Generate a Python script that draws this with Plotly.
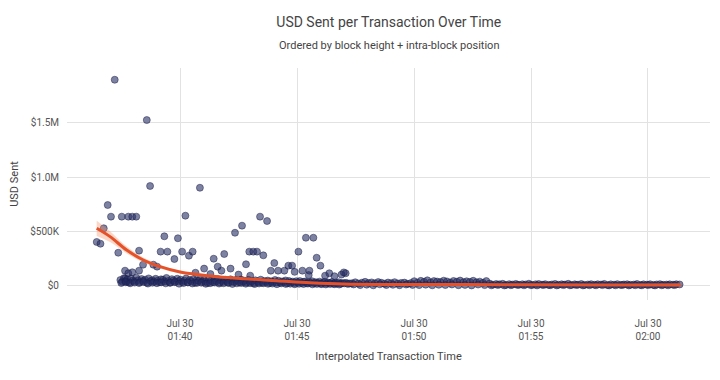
import pandas as pd
import plotly.graph_objects as go

BASE = pd.Timestamp("2018-07-30 01:40:00")

# ---- notable transactions (minutes from 01:40, USD thousands) ----
out_t = [-2.79, -1.42, -1.28, 0.85, -3.56, -3.40, -3.26, -3.09, -2.95, -2.64, -2.49, -2.21, -2.04, -1.87,
         -1.75, -1.58, -1.14, -0.98, -0.83, -0.54, -0.67, -0.24, -0.09, 0.09, 0.23, 0.38, 0.54, 0.66, 1.03,
         1.44, 1.61, 1.77, 1.89, 2.16, 2.35, 2.65, 2.82, 2.96, 3.13, 3.29, 3.42, 3.56, 3.72, 4.03, 3.88,
         4.19, 4.46, 4.63, 4.79, 5.06, 5.38, 5.70, 5.84, 6.00, 5.23, 5.53, 6.38, 7.08,
         -2.35, -2.21, -2.04, -1.75, -2.35, -2.28, 1.30, 2.50, 3.00, 4.90, 5.50, 6.20, 6.60, 6.90, 7.00]
out_v = [1898, 1527, 920, 904, 405, 389, 531, 745, 638, 306, 638, 638, 638, 638,
         325, 196, 196, 178, 316, 316, 457, 248, 439, 316, 647, 279, 316, 122, 160,
         251, 178, 141, 294, 160, 490, 555, 200, 316, 316, 316, 638, 282, 598, 211, 141,
         141, 141, 187, 187, 316, 444, 444, 260, 187, 141, 141, 117, 117,
         141, 117, 126, 141, 70, 40, 110, 105, 95, 130, 100, 95, 90, 105, 125]

# ---- dense early band ----
band1_t = [-2.55, -2.47, -2.40, -2.33, -2.25, -2.18, -2.10, -2.02, -1.95, -1.87,
           -1.80, -1.72, -1.64, -1.57, -1.49, -1.42, -1.34, -1.26, -1.19, -1.11,
           -1.04, -0.96, -0.88, -0.81, -0.73, -0.66, -0.58, -0.50, -0.43, -0.35,
           -0.28, -0.20, -0.12, -0.05, 0.03, 0.10, 0.18, 0.26, 0.33, 0.41,
           0.48, 0.56, 0.64, 0.71, 0.79, 0.86, 0.94, 1.02, 1.09, 1.17,
           1.24, 1.32, 1.40, 1.47, 1.55, 1.62, 1.70, 1.78, 1.85, 1.93,
           2.00, 2.08, 2.16, 2.23, 2.31, 2.38, 2.46, 2.54, 2.61, 2.69,
           2.76, 2.84, 2.92, 2.99, 3.07, 3.14, 3.22, 3.30, 3.37, 3.45,
           3.52, 3.60, 3.68, 3.75, 3.83, 3.90, 3.98, 4.06, 4.13, 4.21,
           4.28, 4.36, 4.44, 4.51, 4.59, 4.66, 4.74, 4.82, 4.89, 4.97,
           5.04, 5.12, 5.20, 5.27, 5.35, 5.42, 5.50, 5.58, 5.65, 5.73,
           5.80, 5.88, 5.96, 6.03, 6.11, 6.18, 6.26, 6.34, 6.41, 6.49,
           6.56, 6.64, 6.72, 6.79, 6.87, 6.94, 7.02, 7.10, 7.17, 7.25]
band1_v = [55, 38, 72, 45, 60, 33, 68, 50, 41, 76, 52, 36, 64, 47, 58, 30, 70, 44, 53, 39,
           66, 48, 35, 61, 57, 42, 74, 46, 31, 63, 51, 40, 67, 45,
           58, 37, 49, 69, 34, 55, 43, 62, 30, 52, 47, 65, 38, 56, 41, 28, 60, 46, 35, 53,
           44, 63, 32, 50, 39, 57, 45, 29, 61, 42, 36, 54, 48, 33, 59, 40,
           47, 31, 56, 38, 44, 26, 52, 41, 35, 58, 30, 45, 39, 50, 27, 43, 36, 55, 33, 48,
           29, 42, 37, 51, 25, 46, 34, 40, 28, 44,
           32, 45, 27, 38, 41, 24, 36, 30, 43, 26, 35, 29, 40, 22, 33, 37, 25, 31, 28, 36,
           21, 30, 26, 34, 20, 27, 24, 29, 19, 23]
band2_t = [-2.51, -2.32, -2.13, -1.94, -1.75, -1.56, -1.37, -1.18, -0.99, -0.80,
           -0.61, -0.42, -0.23, -0.04, 0.15, 0.34, 0.53, 0.72, 0.91, 1.10,
           1.29, 1.48, 1.67, 1.86, 2.05, 2.24, 2.43, 2.62, 2.81, 3.00,
           3.19, 3.38, 3.57, 3.76, 3.95, 4.14, 4.33, 4.52, 4.71, 4.90,
           5.09, 5.28, 5.47, 5.66, 5.85, 6.04, 6.23, 6.42, 6.61, 6.80]
band2_v = [28, 34, 25, 31, 27, 36, 22, 30, 26, 33, 24, 29, 35, 21, 27, 32, 23, 28, 30, 20,
           26, 31, 22, 25, 29, 19, 24, 27, 21, 26, 18, 23, 25, 20, 22, 17, 24, 19, 21, 16,
           20, 18, 22, 15, 19, 17, 14, 18, 16, 13]

# ---- later band ----
band3_t = [7.35, 7.49, 7.63, 7.77, 7.91, 8.05, 8.19, 8.33, 8.47, 8.61,
           8.75, 8.89, 9.03, 9.17, 9.31, 9.45, 9.59, 9.73, 9.87, 10.01,
           10.15, 10.29, 10.43, 10.57, 10.71, 10.85, 10.99, 11.13, 11.27, 11.41,
           11.55, 11.69, 11.83, 11.97, 12.11, 12.25, 12.39, 12.53, 12.67, 12.81,
           12.95, 13.09, 13.23, 13.37, 13.51, 13.65, 13.79, 13.93, 14.07, 14.21,
           14.35, 14.49, 14.63, 14.77, 14.91, 15.05, 15.19, 15.33, 15.47, 15.61,
           15.75, 15.89, 16.03, 16.17, 16.31, 16.45, 16.59, 16.73, 16.87, 17.01,
           17.15, 17.29, 17.43, 17.57, 17.71, 17.85, 17.99, 18.13, 18.27, 18.41,
           18.55, 18.69, 18.83, 18.97, 19.11, 19.25, 19.39, 19.53, 19.67, 19.81,
           19.95, 20.09, 20.23, 20.37, 20.51, 20.65, 20.79, 20.93, 21.07, 21.21, 21.35]
band3_v = [25, 34, 22, 30, 38, 27, 33, 24, 36, 29, 21, 32, 26, 35, 23, 28, 31, 20, 27,
           44, 30, 47, 38, 52, 33, 45, 41, 36, 49, 42, 31, 46, 39, 50, 35, 43, 37, 48, 34, 40, 29, 45,
           22, 12, 18, 15, 20, 10, 17, 13, 19, 11, 16, 14, 21, 9, 15, 18, 12, 17, 10, 14,
           19, 11, 16, 13, 20, 9, 15, 12, 18, 10, 14, 17, 11, 16, 13, 19, 8, 15, 12, 17,
           10, 14, 16, 11, 13, 18, 9, 15, 12, 16, 10, 14, 17, 11, 13, 15, 12, 16, 14]
band4_t = [7.42, 7.70, 7.98, 8.26, 8.54, 8.82, 9.10, 9.38, 9.66, 9.94,
           10.22, 10.50, 10.78, 11.06, 11.34, 11.62, 11.90, 12.18, 12.46, 12.74,
           13.02, 13.30, 13.58, 13.86, 14.14, 14.42, 14.70, 14.98, 15.26, 15.54,
           15.82, 16.10, 16.38, 16.66, 16.94, 17.22, 17.50, 17.78, 18.06, 18.34,
           18.62, 18.90, 19.18, 19.46, 19.74, 20.02, 20.30, 20.58, 20.86, 21.14]
band4_v = [14, 8, 12, 6, 15, 9, 11, 7, 13, 10, 8, 12, 6, 11, 9, 14, 7, 10, 5, 13,
           8, 6, 9, 5, 7, 10, 6, 8, 5, 9, 7, 5, 8, 6, 9, 5, 7, 6, 8, 5,
           6, 9, 5, 7, 6, 8, 5, 7, 6, 8]

# ---- smoothed trend and its confidence half-width (USD thousands) ----
trend_t = [-3.56, -2.99, -2.28, -1.57, -0.85, 0.0, 1.28, 2.71, 4.13, 5.56, 6.98, 9.4, 13.7, 17.9, 21.4]
trend_v = [531, 454, 331, 239, 178, 129, 92, 67, 49, 30, 18, 14, 12, 10, 10]
trend_se = [70, 50, 32, 22, 16, 12, 9, 8, 7, 6, 6, 5, 5, 6, 14]

# ---- axis ticks ----
xtick_min = [0, 5, 10, 15, 20]
ytick_vals = [0, 500, 1000, 1500]
ytick_text = ["$0", "$500K", "$1.0M", "$1.5M"]


def to_time(mins):
    return BASE + pd.to_timedelta(pd.Series(mins, dtype=float), unit="m")


all_t = out_t + band1_t + band2_t + band3_t + band4_t
all_v = out_v + band1_v + band2_v + band3_v + band4_v

fig = go.Figure()
fig.add_trace(go.Scatter(
    x=to_time(all_t), y=[v * 1000 for v in all_v], mode="markers",
    marker=dict(size=7, color="rgba(38,45,100,0.6)",
                line=dict(color="rgba(25,30,70,0.6)", width=0.8)),
    showlegend=False, hoverinfo="skip"))

tt = to_time(trend_t)
upper = [(v + s) * 1000 for v, s in zip(trend_v, trend_se)]
lower = [(v - s) * 1000 for v, s in zip(trend_v, trend_se)]
fig.add_trace(go.Scatter(x=tt, y=upper, mode="lines", line=dict(width=0, shape="spline"),
                         showlegend=False, hoverinfo="skip"))
fig.add_trace(go.Scatter(x=tt, y=lower, mode="lines", line=dict(width=0, shape="spline"),
                         fill="tonexty", fillcolor="rgba(245,140,95,0.35)",
                         showlegend=False, hoverinfo="skip"))
fig.add_trace(go.Scatter(x=tt, y=[v * 1000 for v in trend_v], mode="lines",
                         line=dict(color="#e5522a", width=3, shape="spline"),
                         showlegend=False, hoverinfo="skip"))

tick_times = list(to_time(xtick_min))
tick_text = [t.strftime("%b %d") + "<br>" + t.strftime("%H:%M") for t in tick_times]

fig.update_layout(
    width=720, height=380,
    margin=dict(l=67, r=10, t=68, b=80),
    paper_bgcolor="white", plot_bgcolor="white",
    font=dict(family="Roboto, Arial, sans-serif", color="#555"),
    title=dict(text="USD Sent per Transaction Over Time", x=0.54, xanchor="center",
               y=1 - 22 / 380, yanchor="middle", yref="container",
               font=dict(size=14, color="#444")),
    annotations=[dict(text="Ordered by block height + intra-block position",
                      xref="paper", yref="paper", x=0.5, y=1 + (68 - 45) / 232,
                      xanchor="center", yanchor="middle", showarrow=False,
                      font=dict(size=11, color="#444"))],
    xaxis=dict(
        type="date",
        range=[BASE + pd.Timedelta(minutes=-4.83), BASE + pd.Timedelta(minutes=22.65)],
        tickvals=tick_times, ticktext=tick_text,
        showgrid=True, gridcolor="#e2e2e2", gridwidth=1,
        zeroline=False, showline=False,
        ticks="outside", ticklen=14, tickcolor="rgba(0,0,0,0)",
        tickfont=dict(size=10, color="#555"),
        title=dict(text="Interpolated Transaction Time", font=dict(size=11, color="#444"),
                   standoff=11),
    ),
    yaxis=dict(
        range=[-129000, 2006000],
        tickvals=[v * 1000 for v in ytick_vals], ticktext=ytick_text,
        showgrid=True, gridcolor="#e2e2e2", gridwidth=1,
        zeroline=False, showline=False,
        ticks="outside", ticklen=5, tickcolor="rgba(0,0,0,0)",
        tickfont=dict(size=10, color="#555"),
        title=dict(text="USD Sent", font=dict(size=11, color="#444"), standoff=9),
    ),
)

fig.write_html("out.html")
